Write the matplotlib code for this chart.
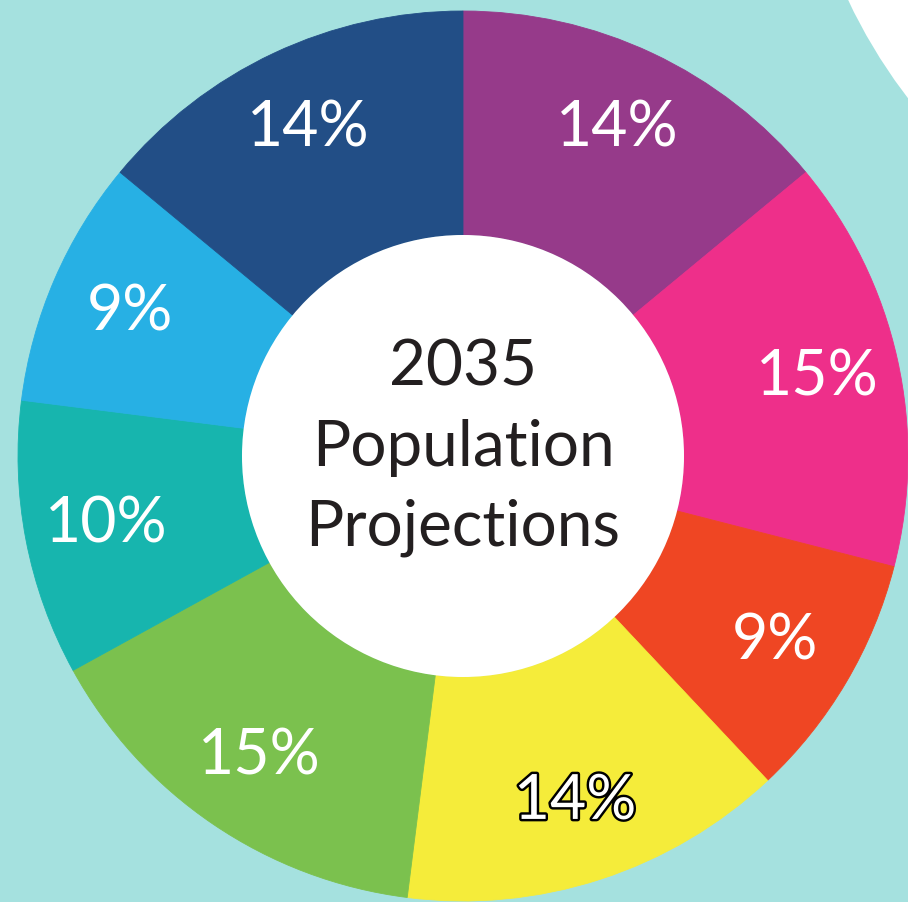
import matplotlib
matplotlib.use("Agg")
import matplotlib.pyplot as plt
from matplotlib.patches import Circle
import matplotlib.patheffects as pe

# Data
shares = [14, 15, 9, 14, 15, 10, 9, 14]
colors = ["#963A8A", "#EE2F8A", "#EF4623", "#F5EC3A",
          "#7BC14E", "#17B5AE", "#27B0E4", "#224E86"]
center_title = "2035\nPopulation\nProjections"

W, H = 908, 903
fig = plt.figure(figsize=(W / 100, H / 100), dpi=100)
fig.patch.set_facecolor("#A5E1DF")
ax = fig.add_axes([0, 0, 1, 1])
ax.set_facecolor("#A5E1DF")
ax.set_xlim(0, W)
ax.set_ylim(0, H)
ax.set_aspect("equal")
ax.axis("off")

# white arc in upper-right corner
ax.add_patch(Circle((1339, H + 231), 543, facecolor="white", edgecolor="none", zorder=0))

cx, cy = 463, H - 457
R, r = 445, 221

wedges, texts, autotexts = ax.pie(
    shares, colors=colors, startangle=90, counterclock=False,
    center=(cx, cy), radius=R,
    wedgeprops=dict(width=R - r, linewidth=0.6, edgecolor="none"),
    autopct=lambda p: f"{p:.0f}%", pctdistance=0.815,
    textprops=dict(color="white", fontsize=45, family="Lato"),
)
for w, c in zip(wedges, colors):
    w.set_edgecolor(c)
    w.set_zorder(1)
for t in autotexts:
    t.set_ha("center")
    t.set_va("center")
# yellow label: white with black outline
autotexts[3].set_path_effects([pe.Stroke(linewidth=3.5, foreground="black"), pe.Normal()])

ax.add_patch(Circle((cx, cy), r, facecolor="white", edgecolor="none", zorder=2))
ax.text(cx, cy + 9, center_title, ha="center", va="center", fontsize=46,
        family="Lato", color="#231F20", linespacing=1.47, zorder=3)

ax.set_xlim(0, W)
ax.set_ylim(0, H)
fig.savefig("out.png", dpi=100, facecolor=fig.get_facecolor())
